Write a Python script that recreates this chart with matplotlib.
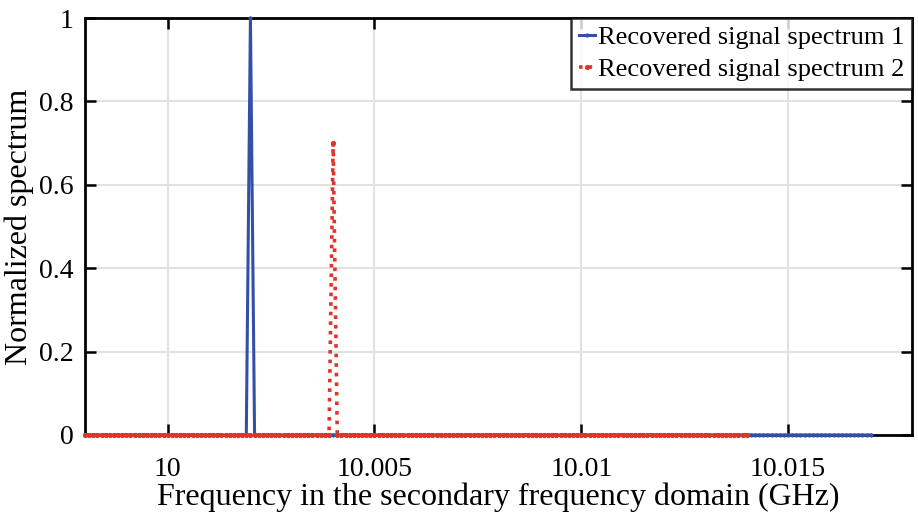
import matplotlib.pyplot as plt
import numpy as np

plt.rcParams['font.family'] = ['Liberation Serif', 'DejaVu Serif']
plt.rcParams['mathtext.fontset'] = 'stix'

# frequency grid (GHz), 100 kHz spacing
step = 0.0001
freq1 = np.round(np.arange(9.998, 10.0171, step), 4)
freq2 = np.round(np.arange(9.998, 10.0141, step), 4)

peak1_freq, peak1_val = 10.002, 1.0
peak2_freq, peak2_val = 10.004, 0.7

spec1 = np.zeros_like(freq1)
spec1[np.argmin(abs(freq1 - peak1_freq))] = peak1_val
spec2 = np.zeros_like(freq2)
spec2[np.argmin(abs(freq2 - peak2_freq))] = peak2_val

xticks = [10, 10.005, 10.01, 10.015]
xticklabels = ['10', '10.005', '10.01', '10.015']
yticks = [0, 0.2, 0.4, 0.6, 0.8, 1]
yticklabels = ['0', '0.2', '0.4', '0.6', '0.8', '1']

fig = plt.figure(figsize=(9.18, 5.16), dpi=100)
ax = fig.add_axes([0.0926, 0.157, 0.901, 0.808])

ax.plot(freq1, spec1, '-', color='#3350a8', lw=2.2, marker='.', ms=4,
        label='Recovered signal spectrum 1', clip_on=False, zorder=3)
ax.plot(freq2, spec2, ':', color='#e0342a', lw=2.6, marker='.', ms=5.5,
        label='Recovered signal spectrum 2', clip_on=False, zorder=4)

ax.set_xlim(9.998, 10.018)
ax.set_ylim(0, 1)
ax.set_xticks(xticks)
ax.set_xticklabels(xticklabels)
ax.set_yticks(yticks)
ax.set_yticklabels(yticklabels)
ax.tick_params(direction='in', length=8, width=1.8, labelsize=20, pad=8,
               top=True, right=True)
ax.tick_params(axis='x', pad=16)
ax.grid(True, color='#e2e2e2', lw=1.5)
ax.set_axisbelow(True)
for s in ax.spines.values():
    s.set_linewidth(2)

ax.set_xlabel('Frequency in the secondary frequency domain (GHz)', fontsize=23, labelpad=0)
ax.set_ylabel('Normalized spectrum', fontsize=23, labelpad=4)

leg = ax.legend(loc='upper right', fontsize=19, frameon=True, fancybox=False,
                borderaxespad=0, handlelength=0.6, handletextpad=0.1,
                borderpad=0.3, labelspacing=0.3, markerscale=1.0)
leg.get_frame().set_edgecolor('black')
leg.get_frame().set_linewidth(1.8)

fig.savefig('out.png', dpi=100)
